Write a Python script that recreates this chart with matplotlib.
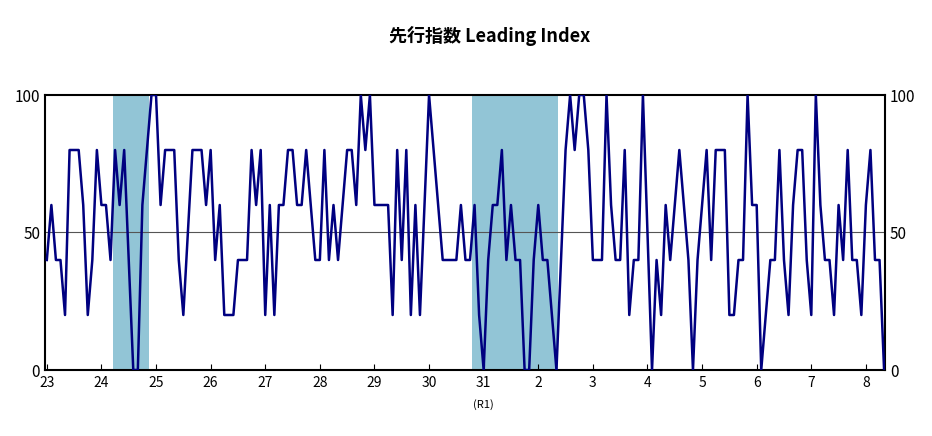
import matplotlib
matplotlib.use("Agg")
import matplotlib.pyplot as plt

plt.rcParams['font.family'] = ['Noto Sans CJK JP', 'DejaVu Sans']

values = [40,60,40,40,20,80,80,80,60,20,40,80,60,60,40,80,60,80,40,0,
          0,60,80,100,100,60,80,80,80,40,20,50,80,80,80,60,80,40,60,20,
          20,20,40,40,40,80,60,80,20,60,20,60,60,80,80,60,60,80,60,40,
          40,80,40,60,40,60,80,80,60,100,80,100,60,60,60,60,20,80,40,80,
          20,60,20,60,100,80,60,40,40,40,40,60,40,40,60,20,0,40,60,60,
          80,40,60,40,40,0,0,40,60,40,40,20,0,40,80,100,80,100,100,80,
          40,40,40,100,60,40,40,80,20,40,40,100,50,0,40,20,60,40,60,80,
          60,40,0,40,60,80,40,80,80,80,20,20,40,40,100,60,60,0,20,40,
          40,80,40,20,60,80,80,40,20,100,60,40,40,20,60,40,80,40,40,20,
          60,80,40,40,0]
recessions = [(14.6, 22.5), (93.5, 112.4)]
tick_labels = ['23','24','25','26','27','28','29','30','31','2','3','4','5','6','7','8']

fig = plt.figure(figsize=(9.32, 4.36), dpi=100)
ax = fig.add_axes([45/932, 1-370/436, 840/932, 275/436])
for a, b in recessions:
    ax.axvspan(a, b, color='#92C5D6', lw=0, zorder=1)
ax.axhline(50, color='#555555', lw=0.8, zorder=2)
ax.plot(range(len(values)), values, color='#000080', lw=1.8, zorder=3)
ax.set_xlim(-0.4, 184.2)
ax.set_ylim(0, 100)
ax.set_xticks([12*i for i in range(len(tick_labels))])
ax.set_xticklabels(tick_labels, fontsize=10)
ax.tick_params(axis='x', direction='in', length=4, pad=4)
ax.set_yticks([0, 50, 100])
ax.tick_params(axis='y', direction='in', length=0, labelsize=11, labelright=True, right=True)
for s in ax.spines.values():
    s.set_linewidth(1.5)
ax.text(96, -10.5, '(R1)', fontsize=8, ha='center', va='top', transform=ax.transData)
fig.text(0.525, 1-36/436, '先行指数 Leading Index', ha='center', va='center', fontsize=13, fontweight='bold')
fig.savefig('out.png', dpi=100)
